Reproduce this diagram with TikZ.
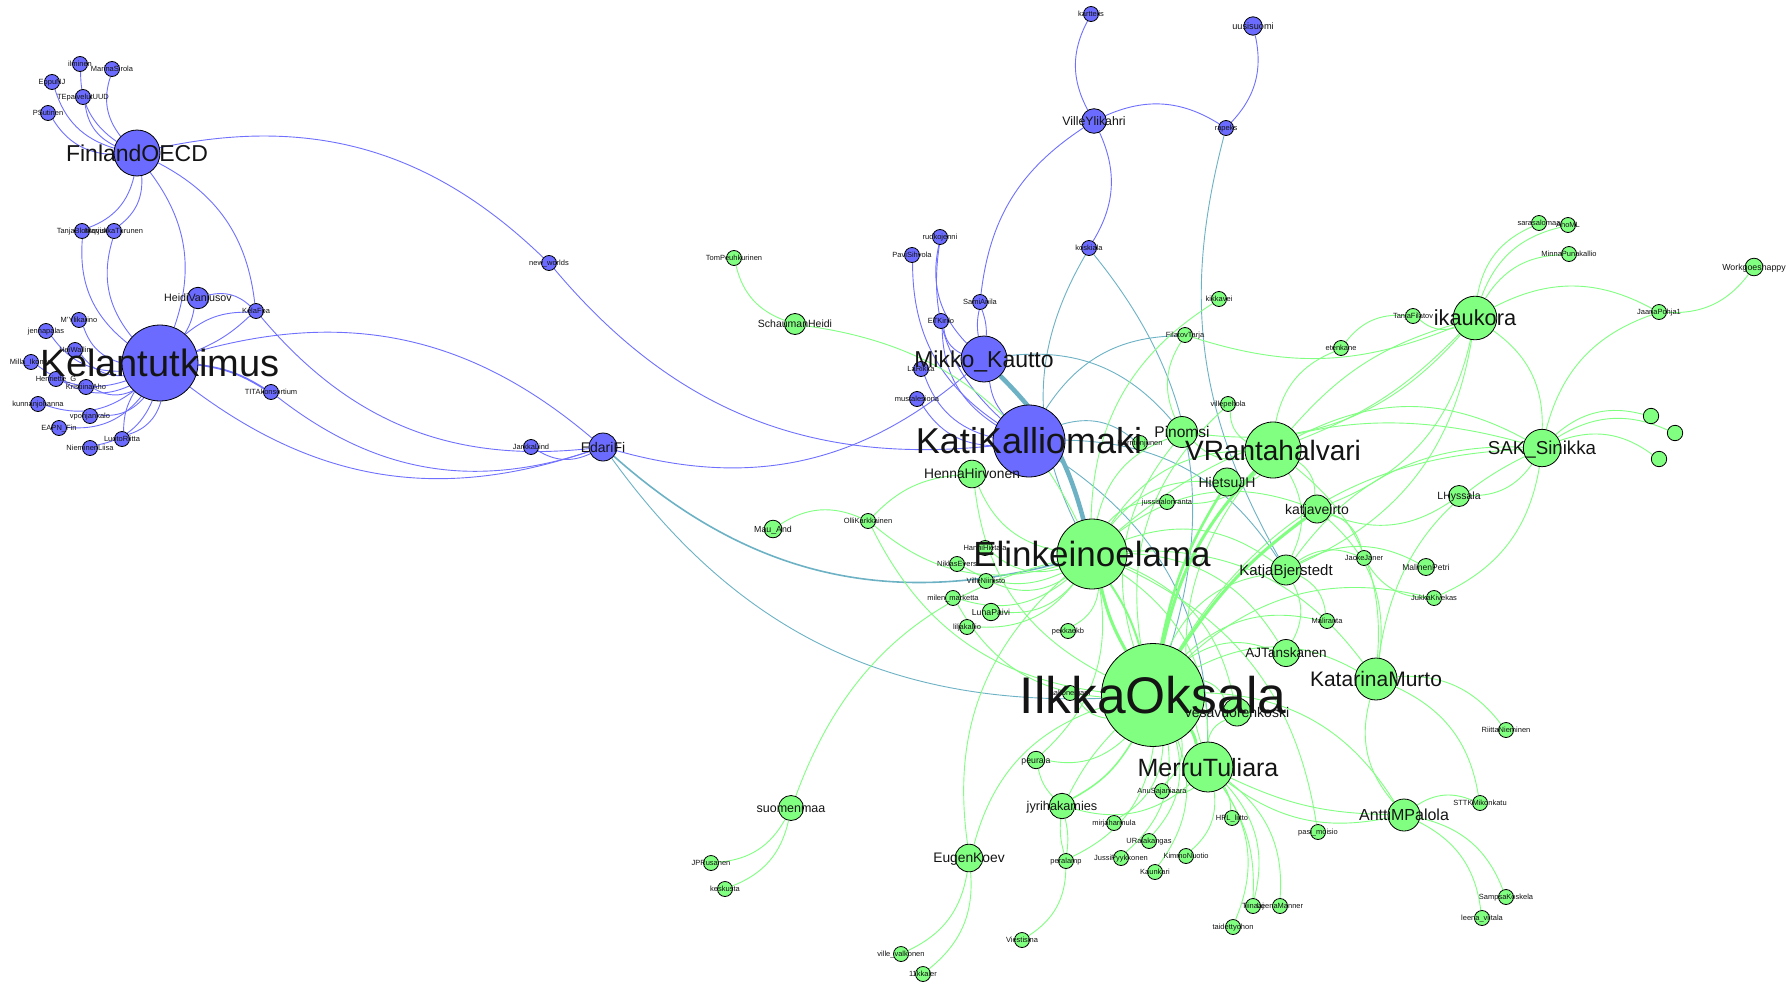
\documentclass[tikz,border=0pt]{standalone}
\usepackage{fontspec}
\setmainfont{Liberation Sans}
\pgfdeclarelayer{bg}\pgfdeclarelayer{fg}\pgfsetlayers{bg,main,fg}
\definecolor{nblue}{RGB}{107,107,255}
\definecolor{ngreen}{RGB}{128,255,128}
\definecolor{eblue}{RGB}{112,112,255}
\definecolor{egreen}{RGB}{128,255,128}
\definecolor{eteal}{RGB}{108,178,196}
\definecolor{ltxt}{RGB}{20,20,20}
\tikzset{
 gn/.style={circle,draw=black,line width=0.8pt,inner sep=0pt},
 lbl/.style={anchor=base,inner sep=0pt,text=ltxt},
 eb/.style={draw=eblue,line width=0.9pt},
 eg/.style={draw=egreen,line width=0.9pt},
 et/.style={draw=eteal,line width=0.9pt},
 bR/.style={bend right=#1}, bR/.default=28,
 bL/.style={bend left=#1}, bL/.default=28
}
\newcommand{\mkn}[6]{%
 \node[gn,fill=#5,minimum size={2*#4pt}] (#1) at (#2,#3) {};
 \begin{pgfonlayer}{fg}\node[lbl,font=\fontsize{#4}{#4}\selectfont] (#1-t) at ({#2},{#3+0.36*#4}) {#6};\end{pgfonlayer}}
\begin{document}
\begin{tikzpicture}[x=1pt,y=-1pt]
\begin{pgfonlayer}{bg}
\fill[white] (0,0) rectangle (1792,985);
\end{pgfonlayer}
\useasboundingbox (0,0) rectangle (1792,985);
% ---- blue nodes
\mkn{FinlandOECD}{137}{153}{23}{nblue}{FinlandOECD}
\mkn{ilminen}{80}{64}{7.5}{nblue}{ilminen}
\mkn{MarinaSirola}{112}{69}{7.5}{nblue}{MarinaSirola}
\mkn{EppuNJ}{52}{82}{7.5}{nblue}{EppuNJ}
\mkn{TEpalvelutUUD}{83}{97}{7.5}{nblue}{TEpalvelutUUD}
\mkn{PSutinen}{48}{113}{7.5}{nblue}{PSutinen}
\mkn{TanjaBlomqvist}{82}{231}{7.5}{nblue}{TanjaBlomqvist}
\mkn{MarjukkaTurunen}{114}{231}{7.5}{nblue}{MarjukkaTurunen}
\mkn{HeidiVanjusov}{198}{298}{10.7}{nblue}{HeidiVanjusov}
\mkn{KelaFpa}{256}{311}{7.5}{nblue}{KelaFpa}
\mkn{MYlikarino}{79}{320}{7.5}{nblue}{M'Ylikarino}
\mkn{jennapalas}{46}{331}{7.5}{nblue}{jennapalas}
\mkn{HeiWallin}{75}{350}{7.5}{nblue}{HeiWallin}
\mkn{MillaIkonen}{31}{362}{7.5}{nblue}{Milla\_Ikonen}
\mkn{HenrietteG}{56}{379}{7.5}{nblue}{Henriette\_G}
\mkn{KristiinaAho}{86}{387}{7.5}{nblue}{KristiinaAho}
\mkn{kunnanjohanna}{38}{404}{7.5}{nblue}{kunnanjohanna}
\mkn{vpohjankalo}{90}{416}{7.5}{nblue}{vpohjankalo}
\mkn{EAPNFin}{59}{428}{7.5}{nblue}{EAPN\_Fin}
\mkn{LuotoRiitta}{122}{439}{7.5}{nblue}{LuotoRiitta}
\mkn{NieminenLiisa}{90}{448}{7.5}{nblue}{NieminenLiisa}
\mkn{TITAkonsortium}{271}{392}{7.5}{nblue}{TITAkonsortium}
\mkn{Kelantutkimus}{160}{363}{38}{nblue}{Kelantutkimus}
\mkn{newworlds}{549}{263}{7.5}{nblue}{new\_worlds}
\mkn{JarkkaLind}{531}{447}{7.5}{nblue}{JarkkaLind}
\mkn{EdariFi}{603}{447}{14}{nblue}{EdariFi}
\mkn{karttelis}{1091}{14}{7.5}{nblue}{karttelis}
\mkn{uusisuomi}{1253}{26}{9.2}{nblue}{uusisuomi}
\mkn{VilleYlikahri}{1094}{121}{12.3}{nblue}{VilleYlikahri}
\mkn{rapeks}{1226}{128}{7.5}{nblue}{rapeks}
\mkn{rudkojenni}{940}{237}{7.5}{nblue}{rudkojenni}
\mkn{PaviSihvola}{912}{255}{7.5}{nblue}{PaviSihvola}
\mkn{koskiala}{1089}{248}{7.5}{nblue}{koskiala}
\mkn{SamiAnila}{980}{302}{7.5}{nblue}{SamiAnila}
\mkn{ETKirilo}{941}{321}{7.5}{nblue}{ETKirilo}
\mkn{LaRikka}{921}{369}{7.5}{nblue}{LaRikka}
\mkn{mustalesiona}{917}{399}{7.5}{nblue}{mustalesiona}
\mkn{MikkoKautto}{984}{359}{23}{nblue}{Mikko\_Kautto}
\mkn{KatiKalliomaki}{1029}{441}{36}{nblue}{KatiKalliomaki}
% ---- green nodes
\mkn{TomPeuhkurinen}{734}{258}{7.5}{ngreen}{TomPeuhkurinen}
\mkn{SchaumanHeidi}{795}{324}{10.5}{ngreen}{SchaumanHeidi}
\mkn{MauAnd}{773}{529}{8.8}{ngreen}{Mau\_And}
\mkn{OlliKarkkainen}{868}{521}{7.5}{ngreen}{OlliKarkkainen}
\mkn{HennaHirvonen}{972}{474}{13.8}{ngreen}{HennaHirvonen}
\mkn{kikkavei}{1219}{299}{7.5}{ngreen}{kikkavei}
\mkn{FilatovTarja}{1185}{335}{7.5}{ngreen}{FilatovTarja}
\mkn{villepeltola}{1228}{404}{7.5}{ngreen}{villepeltola}
\mkn{Harritonjunen}{1140}{443}{7.5}{ngreen}{Harritonjunen}
\mkn{jussisalonranta}{1167}{502}{7.5}{ngreen}{jussisalonranta}
\mkn{etenkane}{1341}{348}{7.5}{ngreen}{etenkane}
\mkn{TanjaFilatov}{1413}{316}{7.5}{ngreen}{TanjaFilatov}
\mkn{sarasalomaa}{1539}{223}{7.5}{ngreen}{sarasalomaa}
\mkn{AhoML}{1568}{225}{7.5}{ngreen}{AhoML}
\mkn{MinnaPunakallio}{1569}{254}{7.5}{ngreen}{MinnaPunakallio}
\mkn{Workgoeshappy}{1754}{267}{8.8}{ngreen}{Workgoeshappy}
\mkn{JaanaPohja}{1659}{312}{7.5}{ngreen}{JaanaPohja1}
\mkn{ua}{1651}{416}{7.7}{ngreen}{}
\mkn{ub}{1675}{433}{7.7}{ngreen}{}
\mkn{uc}{1659}{459}{7.7}{ngreen}{}
\mkn{LHyssala}{1459}{496}{10.5}{ngreen}{LHyssala}
\mkn{HanniHietala}{985}{548}{7.5}{ngreen}{HanniHietala}
\mkn{NiklasEvers}{957}{564}{7.5}{ngreen}{NiklasEvers}
\mkn{VilleNiinisto}{986}{581}{7.5}{ngreen}{VilleNiinisto}
\mkn{milenmarketta}{953}{598}{7.5}{ngreen}{milen\_marketta}
\mkn{LunaPaivi}{991}{612}{8.7}{ngreen}{LunaPaivi}
\mkn{liljakallio}{967}{627}{7.5}{ngreen}{liljakallio}
\mkn{pekkaekb}{1068}{631}{7.5}{ngreen}{pekkaekb}
\mkn{JackeJaner}{1364}{558}{7.5}{ngreen}{JackeJaner}
\mkn{MalinenPetri}{1426}{567}{8.5}{ngreen}{MalinenPetri}
\mkn{JukkaKivekas}{1434}{598}{7.5}{ngreen}{JukkaKivekas}
\mkn{Maliranta}{1327}{621}{7.5}{ngreen}{Maliranta}
\mkn{aaltonenjani}{1070}{693}{7.5}{ngreen}{aaltonenjani}
\mkn{RiittaNieminen}{1506}{730}{7.5}{ngreen}{RiittaNieminen}
\mkn{peurala}{1036}{760}{8.7}{ngreen}{peurala}
\mkn{AnuSajaniaara}{1162}{791}{7.5}{ngreen}{AnuSajaniaara}
\mkn{mirjaharmula}{1114}{823}{7.5}{ngreen}{mirjaharmula}
\mkn{HPLliitto}{1232}{818}{7.5}{ngreen}{HPL\_liitto}
\mkn{pasimoisio}{1318}{832}{7.5}{ngreen}{pasi\_moisio}
\mkn{URalakangas}{1149}{841}{7.5}{ngreen}{URalakangas}
\mkn{peralamp}{1066}{861}{7.5}{ngreen}{peralamp}
\mkn{JussiPyykkonen}{1121}{858}{7.5}{ngreen}{JussiPyykkonen}
\mkn{KimmoNuotio}{1186}{856}{7.5}{ngreen}{KimmoNuotio}
\mkn{Kaunkari}{1155}{872}{7.5}{ngreen}{Kaunkari}
\mkn{Tiinaaj}{1253}{906}{7.5}{ngreen}{Tiinaaj}
\mkn{LeenaManner}{1280}{906}{7.5}{ngreen}{LeenaManner}
\mkn{taidettyohon}{1233}{927}{7.5}{ngreen}{taidettyohon}
\mkn{Viestisina}{1022}{940}{7.5}{ngreen}{Viestisina}
\mkn{villevalkonen}{901}{954}{7.5}{ngreen}{ville\_valkonen}
\mkn{kkaler}{923}{974}{7.5}{ngreen}{11kkaler}
\mkn{JPRusanen}{711}{863}{7.5}{ngreen}{JPRusanen}
\mkn{keskusta}{725}{889}{7.5}{ngreen}{keskusta}
\mkn{STTKMikonkatu}{1480}{803}{7.5}{ngreen}{STTKMikonkatu}
\mkn{SampsaKoskela}{1506}{897}{7.5}{ngreen}{SampsaKoskela}
\mkn{leenaviitala}{1482}{918}{7.5}{ngreen}{leena\_viitala}
\mkn{suomenmaa}{791}{808}{12.5}{ngreen}{suomenmaa}
\mkn{EugenKoev}{969}{858}{13.8}{ngreen}{EugenKoev}
\mkn{jyrihakamies}{1062}{806}{12.7}{ngreen}{jyrihakamies}
\mkn{AnttiMPalola}{1404}{815}{16}{ngreen}{AnttiMPalola}
\mkn{vesavuorenkoski}{1237}{712}{14}{ngreen}{vesavuorenkoski}
\mkn{AJTanskanen}{1286}{653}{13.5}{ngreen}{AJTanskanen}
\mkn{KatjaBjerstedt}{1286}{570}{15}{ngreen}{KatjaBjerstedt}
\mkn{katjaveirto}{1317}{509}{14}{ngreen}{katjaveirto}
\mkn{HietsuJH}{1227}{482}{14}{ngreen}{HietsuJH}
\mkn{Pinomsi}{1182}{432}{15.5}{ngreen}{Pinomsi}
\mkn{SAKSinikka}{1542}{448}{18.7}{ngreen}{SAK\_Sinikka}
\mkn{KatarinaMurto}{1376}{679}{21}{ngreen}{KatarinaMurto}
\mkn{ikaukora}{1475}{318}{21.8}{ngreen}{ikaukora}
\mkn{MerruTuliara}{1208}{767}{25}{ngreen}{MerruTuliara}
\mkn{VRantahalvari}{1273}{450}{28}{ngreen}{VRantahalvari}
\mkn{Elinkeinoelama}{1092}{554}{35}{ngreen}{Elinkeinoelama}
\mkn{IlkkaOksala}{1153}{695}{51.5}{ngreen}{IlkkaOksala}
% ---- edges
\begin{pgfonlayer}{bg}
\foreach \a in {ilminen,MarinaSirola,EppuNJ,TEpalvelutUUD,PSutinen,TanjaBlomqvist,MarjukkaTurunen}
  \draw[eb,bR] (\a) to (FinlandOECD);
\foreach \a in {TanjaBlomqvist,MarjukkaTurunen,MYlikarino,jennapalas,HeiWallin,MillaIkonen,HenrietteG,KristiinaAho,kunnanjohanna,vpohjankalo,EAPNFin,LuotoRiitta,NieminenLiisa}
  \draw[eb,bR] (\a) to (Kelantutkimus);
\draw[eb,bL=15] (LuotoRiitta) to (Kelantutkimus);
\draw[eb,bR] (Kelantutkimus) to (FinlandOECD);
\draw[eb,bR] (KelaFpa) to (FinlandOECD);
\draw[eb,bR] (KelaFpa) to (HeidiVanjusov);
\draw[eb,bR=10] (Kelantutkimus) to (HeidiVanjusov);
\draw[eb,bR=20] (KelaFpa) to (Kelantutkimus);
\draw[eb,bR=10] (Kelantutkimus) to (KelaFpa);
\draw[eb,bR=12,line width=1.8pt] (TITAkonsortium) to (Kelantutkimus);
\draw[eb,bR] (EdariFi) to (Kelantutkimus);
\draw[eb,bR] (Kelantutkimus) to (EdariFi);
\draw[eb,bR] (KelaFpa) to (EdariFi);
\draw[eb,bR] (TITAkonsortium) to (EdariFi);
\draw[eb,bR] (JarkkaLind) to (EdariFi);
\draw[eb,bR] (newworlds) to (FinlandOECD);
\draw[eb,bR] (newworlds) to (KatiKalliomaki);
\draw[eb,bR] (EdariFi) to (MikkoKautto);
\draw[et,bR,line width=1.6pt] (EdariFi) to (Elinkeinoelama);
\draw[et,bR] (EdariFi) to (IlkkaOksala);
\draw[eb,bR] (karttelis) to (VilleYlikahri);
\draw[eb,bR] (rapeks) to (uusisuomi);
\draw[eb,bR] (rapeks) to (VilleYlikahri);
\draw[eb,bR] (koskiala) to (VilleYlikahri);
\draw[eb,bR=25] (VilleYlikahri) to (SamiAnila);
\draw[eb,bR=10] (SamiAnila) to (MikkoKautto);
\draw[eb,bR=10] (MikkoKautto) to (SamiAnila);
\draw[eb,bR] (rudkojenni) to (MikkoKautto);
\draw[eb,bR] (rudkojenni) to (KatiKalliomaki);
\draw[eb,bR] (PaviSihvola) to (KatiKalliomaki);
\draw[eb,bR] (ETKirilo) to (MikkoKautto);
\draw[eb,bR] (ETKirilo) to (KatiKalliomaki);
\draw[eb,bR] (LaRikka) to (KatiKalliomaki);
\draw[eb,bR] (mustalesiona) to (KatiKalliomaki);
\draw[eb,bR=15] (MikkoKautto) to (KatiKalliomaki);
\draw[et,bR] (koskiala) to (Elinkeinoelama);
\draw[et,bR] (IlkkaOksala) to (koskiala);
\draw[et,bR=22] (rapeks) to (KatjaBjerstedt);
\draw[et,bR] (Pinomsi) to (MikkoKautto);
\draw[et,bR=15,line width=4.5pt] (Elinkeinoelama) to (MikkoKautto);
\draw[et,bR] (FilatovTarja) to (KatiKalliomaki);
\draw[et,bR] (Harritonjunen) to (KatiKalliomaki);
\draw[et,bR] (KatjaBjerstedt) to (KatiKalliomaki);
\draw[et,bR] (MerruTuliara) to (KatiKalliomaki);
% green
\draw[eg,bR] (TomPeuhkurinen) to (SchaumanHeidi);
\draw[eg,bR] (Elinkeinoelama) to (SchaumanHeidi);
\draw[eg,bR] (OlliKarkkainen) to (MauAnd);
\draw[eg,bR=20] (HennaHirvonen) to (OlliKarkkainen);
\foreach \a in {HanniHietala,NiklasEvers,VilleNiinisto,milenmarketta,LunaPaivi,liljakallio,pekkaekb,OlliKarkkainen,HennaHirvonen,jussisalonranta,Pinomsi,kikkavei}
  \draw[eg,bR] (\a) to (Elinkeinoelama);
\draw[eg,bR] (Elinkeinoelama) to (suomenmaa);
\draw[eg,bR] (JPRusanen) to (suomenmaa);
\draw[eg,bR] (keskusta) to (suomenmaa);
\draw[eg,bR] (villevalkonen) to (EugenKoev);
\draw[eg,bR] (kkaler) to (EugenKoev);
\draw[eg,bR] (Elinkeinoelama) to (EugenKoev);
\draw[eg,bR] (IlkkaOksala) to (EugenKoev);
\foreach \a in {OlliKarkkainen,HennaHirvonen,peurala,aaltonenjani,mirjaharmula,AnuSajaniaara,URalakangas,JussiPyykkonen,Kaunkari,peralamp,villepeltola,Pinomsi,AJTanskanen,KatjaBjerstedt,vesavuorenkoski,JukkaKivekas,Maliranta,SAKSinikka,AnttiMPalola,KatarinaMurto,milenmarketta}
  \draw[eg,bR] (\a) to (IlkkaOksala);
\draw[eg,bR=15] (peurala) to (jyrihakamies);
\draw[eg,bR] (peurala) to (Elinkeinoelama);
\draw[eg,bR=15,line width=1.5pt] (jyrihakamies) to (IlkkaOksala);
\draw[eg,bL=8] (jyrihakamies) to (IlkkaOksala);
\draw[eg,bR=10] (jyrihakamies) to (peralamp);
\draw[eg,bL=10] (jyrihakamies) to (peralamp);
\draw[eg,bR] (jyrihakamies) to (MerruTuliara);
\draw[eg,bR] (Viestisina) to (peralamp);
\draw[eg,bR] (KimmoNuotio) to (MerruTuliara);
\draw[eg,bR] (AnuSajaniaara) to (MerruTuliara);
\draw[eg,bR=15] (HPLliitto) to (MerruTuliara);
\draw[eg,bR] (Tiinaaj) to (MerruTuliara);
\draw[eg,bR=18] (Tiinaaj) to (MerruTuliara);
\draw[eg,bR] (LeenaManner) to (MerruTuliara);
\draw[eg,bR] (taidettyohon) to (MerruTuliara);
\draw[eg,bR=12] (MerruTuliara) to (AnttiMPalola);
\draw[eg,bR=24] (MerruTuliara) to (AnttiMPalola);
\draw[eg,bR] (pasimoisio) to (Elinkeinoelama);
\draw[eg,bR] (STTKMikonkatu) to (KatarinaMurto);
\draw[eg,bR] (STTKMikonkatu) to (AnttiMPalola);
\draw[eg,bR] (SampsaKoskela) to (AnttiMPalola);
\draw[eg,bR] (leenaviitala) to (AnttiMPalola);
\draw[eg,bR] (RiittaNieminen) to (KatarinaMurto);
\draw[eg,bR] (KatarinaMurto) to (AnttiMPalola);
\draw[eg,bR] (KatarinaMurto) to (Elinkeinoelama);
\draw[eg,bR] (KatarinaMurto) to (katjaveirto);
\draw[eg,bR] (SAKSinikka) to (KatarinaMurto);
\draw[eg,bR] (KatarinaMurto) to (VRantahalvari);
\draw[eg,bR] (Maliranta) to (KatjaBjerstedt);
\draw[eg,bR] (ua) to (SAKSinikka);
\draw[eg,bR] (ub) to (SAKSinikka);
\draw[eg,bR] (uc) to (SAKSinikka);
\draw[eg,bR] (JaanaPohja) to (SAKSinikka);
\draw[eg,bR] (JaanaPohja) to (Workgoeshappy);
\draw[eg,bR] (JaanaPohja) to (ikaukora);
\draw[eg,bR] (SAKSinikka) to (ikaukora);
\draw[eg,bR] (SAKSinikka) to (VRantahalvari);
\draw[eg,bR] (LHyssala) to (SAKSinikka);
\draw[eg,bR] (SAKSinikka) to (KatjaBjerstedt);
\draw[eg,bR] (JukkaKivekas) to (SAKSinikka);
\draw[eg,bR] (SAKSinikka) to (Elinkeinoelama);
\draw[eg,bR] (katjaveirto) to (LHyssala);
\draw[eg,bR] (JackeJaner) to (katjaveirto);
\draw[eg,bR] (JackeJaner) to (KatjaBjerstedt);
\draw[eg,bR] (JackeJaner) to (JukkaKivekas);
\draw[eg,bR] (MalinenPetri) to (KatjaBjerstedt);
\foreach \a in {sarasalomaa,AhoML,MinnaPunakallio,TanjaFilatov}
  \draw[eg,bR] (\a) to (ikaukora);
\draw[eg,bR] (TanjaFilatov) to (etenkane);
\draw[eg,bR] (etenkane) to (VRantahalvari);
\draw[eg,bR] (Pinomsi) to (ikaukora);
\draw[eg,bR] (katjaveirto) to (ikaukora);
\draw[eg,bR] (KatjaBjerstedt) to (ikaukora);
\draw[eg,bR=12] (VRantahalvari) to (ikaukora);
\draw[eg,bR=16] (ikaukora) to (VRantahalvari);
\draw[eg,bR] (FilatovTarja) to (Pinomsi);
\draw[eg,bR=20] (FilatovTarja) to (ikaukora);
\draw[eg,bR] (villepeltola) to (VRantahalvari);
\draw[eg,bR] (jussisalonranta) to (VRantahalvari);
\draw[eg,bR=15,line width=3pt] (VRantahalvari) to (IlkkaOksala);
\draw[eg,bR] (VRantahalvari) to (Elinkeinoelama);
\draw[eg,bR] (HietsuJH) to (VRantahalvari);
\draw[eg,bR] (Pinomsi) to (VRantahalvari);
\draw[eg,bR] (katjaveirto) to (VRantahalvari);
\draw[eg,bR] (KatjaBjerstedt) to (VRantahalvari);
\draw[eg,bR] (VRantahalvari) to (MerruTuliara);
\draw[eg,bR=10,line width=2.5pt] (HietsuJH) to (IlkkaOksala);
\draw[eg,bR] (HietsuJH) to (Elinkeinoelama);
\draw[eg,bR=10,line width=3pt] (katjaveirto) to (IlkkaOksala);
\draw[eg,bR] (katjaveirto) to (Elinkeinoelama);
\draw[eg,bR] (KatjaBjerstedt) to (Elinkeinoelama);
\draw[eg,bR] (AJTanskanen) to (Elinkeinoelama);
\draw[eg,bR] (AJTanskanen) to (KatjaBjerstedt);
\draw[eg,bR] (vesavuorenkoski) to (Elinkeinoelama);
\draw[eg,bR] (vesavuorenkoski) to (MerruTuliara);
\draw[eg,bR=8,line width=3pt] (Elinkeinoelama) to (IlkkaOksala);
\draw[eg,bR=8,line width=2pt] (IlkkaOksala) to (Elinkeinoelama);
\draw[eg,bR=10,line width=3pt] (MerruTuliara) to (IlkkaOksala);
\draw[eg,bR] (MerruTuliara) to (Elinkeinoelama);
\end{pgfonlayer}
\end{tikzpicture}
\end{document}
